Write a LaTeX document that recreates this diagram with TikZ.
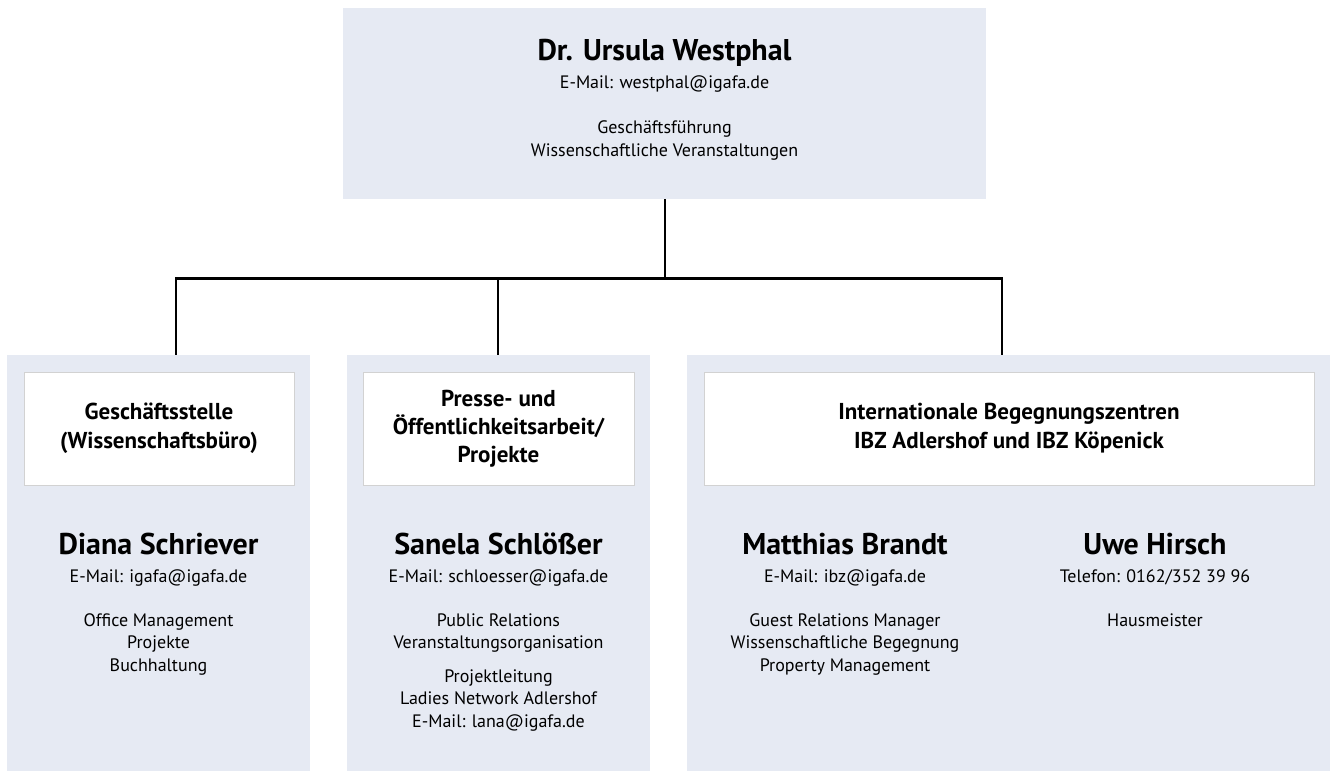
\documentclass[tikz,border=0pt]{standalone}
\usepackage{fontspec}
\setmainfont{PT Sans}
\begin{document}
\begin{tikzpicture}[x=1pt,y=-1pt,
  panel/.style={fill=panelblue, draw=none, inner sep=0pt},
  whitebox/.style={fill=white, draw=boxgray, line width=1pt, inner sep=0pt},
  conn/.style={draw=black, line width=2.8pt},
  bigname/.style={font=\fontsize{30}{34}\selectfont\bfseries, inner sep=0pt, anchor=base},
  body/.style={font=\fontsize{18}{22.5}\selectfont, align=center, inner sep=0pt, anchor=base},
  head/.style={font=\fontsize{23}{29}\selectfont\bfseries, align=center, inner sep=0pt}]
\definecolor{panelblue}{HTML}{E6EAF3}
\definecolor{boxgray}{HTML}{D2D2D2}
\useasboundingbox (0,0) rectangle (1335,771);
% panels
\node[panel, minimum width=643pt, minimum height=191pt] (top) at (664.5,103.5) {};
\node[panel, minimum width=303pt, minimum height=416pt] (b1) at (158.5,563) {};
\node[panel, minimum width=303pt, minimum height=416pt] (b2) at (498.5,563) {};
\node[panel, minimum width=643pt, minimum height=416pt] (b3) at (1008.5,563) {};
% white boxes
\node[whitebox, minimum width=270pt, minimum height=113pt] (w1) at (159,428.5) {};
\node[whitebox, minimum width=271pt, minimum height=113pt] (w2) at (498.5,428.5) {};
\node[whitebox, minimum width=610pt, minimum height=113pt] (w3) at (1009,428.5) {};
% connectors
\coordinate (hub) at (665,278.5);
\draw[conn] (top.south -| hub) -- (hub);
\draw[conn] (b1.north -| 176,0) |- (hub);
\draw[conn] (b2.north -| 498,0) |- (hub);
\draw[conn] (b3.north -| 1002,0) |- (hub);
% top texts
\node[bigname] (tn) at (664.5,60.5) {Dr. Ursula Westphal};
\node[body] (te) at (664.5,88.5) {E-Mail: westphal@igafa.de};
\node[body] (tr) at (664.5,156) {Geschäftsführung\\Wissenschaftliche Veranstaltungen};
% headings
\node[head] (h1) at (w1) {Geschäftsstelle\\(Wissenschaftsbüro)};
\node[head, font=\fontsize{23}{28}\selectfont\bfseries] (h2) at (w2) {Presse- und\\Öffentlichkeitsarbeit/\\Projekte};
\node[head] (h3) at (w3) {Internationale Begegnungszentren\\IBZ Adlershof und IBZ Köpenick};
% box 1
\node[bigname] (n1) at (158.5,554) {Diana Schriever};
\node[body] (e1) at (158.5,582) {E-Mail: igafa@igafa.de};
\node[body] (r1) at (158.5,671) {Office Management\\Projekte\\Buchhaltung};
% box 2
\node[bigname] (n2) at (498.5,554) {Sanela Schlößer};
\node[body] (e2) at (498.5,582) {E-Mail: schloesser@igafa.de};
\node[body] (r2) at (498.5,648.5) {Public Relations\\Veranstaltungsorganisation};
\node[body] (p2) at (498.5,727) {Projektleitung\\Ladies Network Adlershof\\E-Mail: lana@igafa.de};
% box 3
\node[bigname] (n3) at (845,554) {Matthias Brandt};
\node[body] (e3) at (845,582) {E-Mail: ibz@igafa.de};
\node[body] (r3) at (845,671) {Guest Relations Manager\\Wissenschaftliche Begegnung\\Property Management};
\node[bigname] (n4) at (1155,554) {Uwe Hirsch};
\node[body] (e4) at (1155,582) {Telefon: 0162/352 39 96};
\node[body] (r4) at (1155,626) {Hausmeister};
\end{tikzpicture}
\end{document}
